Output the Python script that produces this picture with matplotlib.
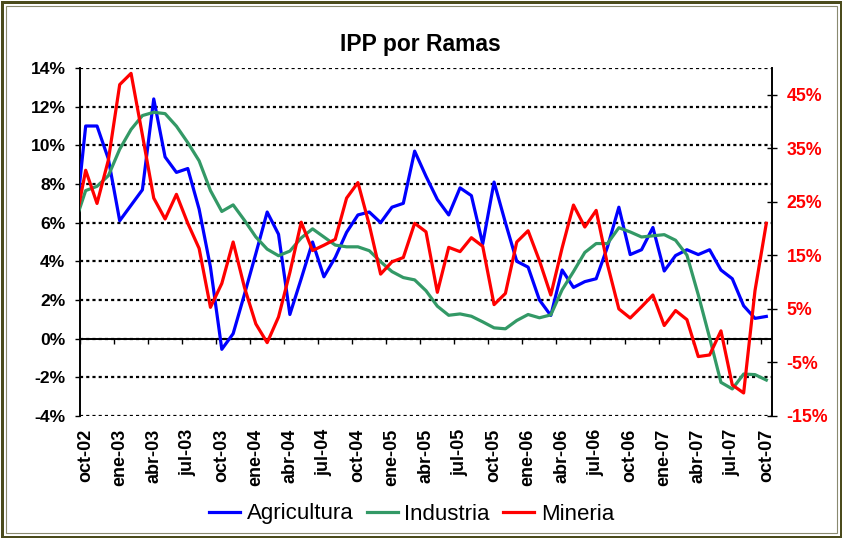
import matplotlib
matplotlib.use("Agg")
import matplotlib.pyplot as plt
import matplotlib.patches as mpatches
from matplotlib.ticker import FuncFormatter

plt.rcParams['font.family'] = ['Liberation Sans', 'DejaVu Sans']

# months sep-02 .. oct-07 (sep-02 falls just left of the plot edge)
meses_es = ['ene', 'feb', 'mar', 'abr', 'may', 'jun', 'jul', 'ago', 'sep', 'oct', 'nov', 'dic']
months = [f"{meses_es[(8 + k) % 12]}-{(2002 + (8 + k) // 12) % 100:02d}" for k in range(62)]

# % var. anual, left axis
agricultura = [5.4,
               11.0, 11.0, 9.3, 6.1, 6.9, 7.7, 12.4, 9.4, 8.6, 8.8,
               6.7, 3.7, -0.55, 0.26, 2.3, 4.4, 6.55, 5.4, 1.25, 3.1,
               5.0, 3.2, 4.2, 5.5, 6.4, 6.55, 6.0, 6.8, 7.0, 9.7,
               8.4, 7.2, 6.4, 7.8, 7.4, 4.9, 8.1, 6.0, 4.0, 3.7,
               2.0, 1.2, 3.55, 2.65, 2.95, 3.1, 4.75, 6.8, 4.35, 4.6,
               5.75, 3.5, 4.3, 4.6, 4.35, 4.6, 3.55, 3.1, 1.7, 1.05,
               1.15]
industria = [5.9,
             7.66, 7.88, 8.43, 9.8, 10.82, 11.54, 11.71, 11.64, 10.99, 10.14,
             9.2, 7.66, 6.58, 6.92, 6.12, 5.26, 4.63, 4.29, 4.53, 5.21,
             5.68, 5.26, 4.84, 4.75, 4.75, 4.55, 3.98, 3.47, 3.16, 3.04,
             2.48, 1.68, 1.21, 1.28, 1.16, 0.87, 0.56, 0.51, 0.94, 1.25,
             1.08, 1.23, 2.53, 3.47, 4.46, 4.92, 4.92, 5.74, 5.52, 5.26,
             5.32, 5.38, 5.09, 4.32, 2.27, 0.05, -2.26, -2.6, -1.83, -1.86,
             -2.14]
# right axis
mineria = [19.9,
           30.9, 24.7, 32.8, 46.9, 49.0, 37.5, 25.7, 21.8, 26.4, 21.0,
           16.3, 5.3, 9.75, 17.5, 9.0, 2.2, -1.3, 3.5, 11.8, 21.2,
           15.9, 16.9, 18.0, 25.7, 28.6, 20.7, 11.5, 13.8, 14.6, 21.0,
           19.4, 8.1, 16.5, 15.7, 18.3, 16.7, 5.8, 7.9, 17.5, 19.6,
           14.0, 7.6, 16.4, 24.4, 20.3, 23.4, 13.3, 5.0, 3.3, 5.4,
           7.6, 1.9, 4.7, 3.0, -3.9, -3.6, 0.9, -9.2, -10.7, 8.4,
           21.0]

W, H = 842, 538
fig = plt.figure(figsize=(W / 100, H / 100), dpi=100)

# outer frame: thick olive + thin inner line
fig.add_artist(mpatches.Rectangle((1.5 / W, 1.5 / H), 1 - 3 / W, 1 - 3 / H, transform=fig.transFigure,
                                  fill=False, edgecolor='#4b4b1c', linewidth=3 * 0.72))
fig.add_artist(mpatches.Rectangle((5.5 / W, 5.5 / H), 1 - 11 / W, 1 - 11 / H, transform=fig.transFigure,
                                  fill=False, edgecolor='#8a8a70', linewidth=0.8))

ax = fig.add_axes([80 / W, (H - 416) / H, 692 / W, 348 / H])
x = list(range(len(months)))

l1, = ax.plot(x, agricultura, color='#0000ff', lw=2.3, label='Agricultura', zorder=3)
l2, = ax.plot(x, industria, color='#339966', lw=2.3, label='Industria', zorder=3)
ax2 = ax.twinx()
l3, = ax2.plot(x, mineria, color='#ff0000', lw=2.3, label='Mineria', zorder=3)

ax.set_xlim(0.5, len(months) - 0.5)
ax.set_ylim(-4, 14)
ax.set_yticks(range(-4, 15, 2))
ax2.set_ylim(-15, 50)
ax2.set_yticks(range(-15, 46, 10))
pct = FuncFormatter(lambda v, p: f"{v:.0f}%")
ax.yaxis.set_major_formatter(pct)
ax2.yaxis.set_major_formatter(pct)

# grid
ax.set_axisbelow(True)
ax.yaxis.grid(True, color='black', linestyle=(0, (1.4, 1.4)), linewidth=1.6)
ax.axhline(0, color='black', lw=1.4, zorder=1.5)
tick_pos = [p + 0.5 for p in x[::3]]
ax.vlines(tick_pos, 0, -0.28, color='black', lw=1.0, zorder=1.5)

# x labels every 3 months, at the bottom
lab_idx = list(range(1, len(months), 3))
ax.set_xticks(lab_idx)
ax.set_xticklabels([months[i] for i in lab_idx], rotation=90, fontweight='bold', fontsize=13)
ax.tick_params(axis='x', length=0, pad=9)

ax.tick_params(axis='y', direction='out', length=3.5, width=1, pad=7, labelsize=12.6)
for t in ax.get_yticklabels():
    t.set_fontweight('bold')
ax2.tick_params(axis='y', direction='inout', length=7, width=1, pad=7, labelsize=12.8, labelcolor='#ff0000')
for t in ax2.get_yticklabels():
    t.set_fontweight('bold')

for a in (ax, ax2):
    a.spines['top'].set_visible(False)
    a.spines['bottom'].set_visible(False)
ax.spines['right'].set_visible(False)
ax2.spines['left'].set_visible(False)
ax.spines['left'].set_linewidth(1.4)
ax2.spines['right'].set_linewidth(1.4)

fig.text(420.5 / W, 1 - 45 / H, 'IPP por Ramas', ha='center', va='center', fontsize=16.5, fontweight='bold')

fig.legend(handles=[l1, l2, l3], loc='center', bbox_to_anchor=(411.5 / W, 1 - 514 / H), ncol=3,
           frameon=False, fontsize=16, handlelength=1.4, handletextpad=0.3, columnspacing=0.6)

fig.savefig('out.png', dpi=100)
